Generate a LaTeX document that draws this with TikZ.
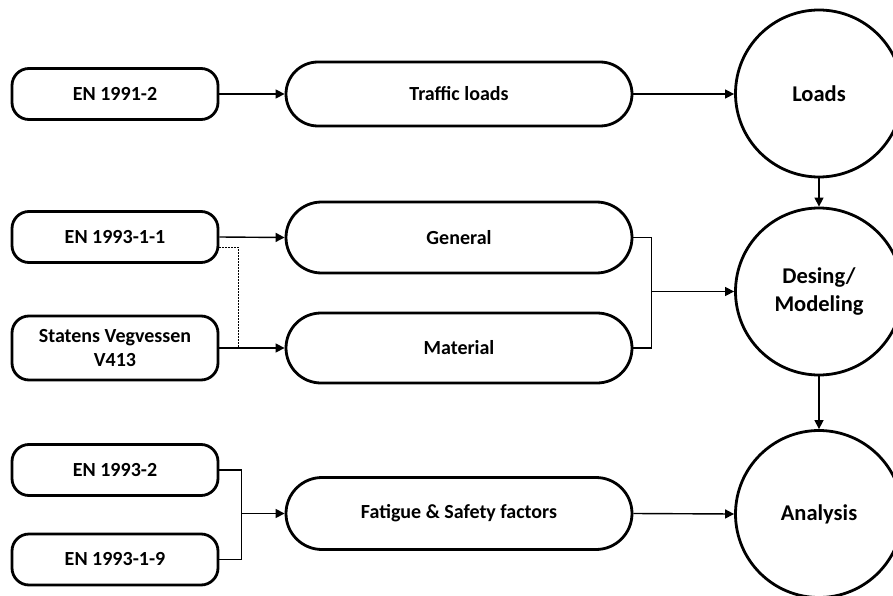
\documentclass[tikz,border=0pt]{standalone}
\usepackage{fontspec}
\setmainfont{Carlito}
\usetikzlibrary{shapes.misc,arrows.meta}
\begin{document}
\begin{tikzpicture}[x=1pt,y=-1pt,
 every node/.style={font=\bfseries\fontsize{20}{24}\selectfont, align=center, inner sep=0pt},
 srcbox/.style={draw, line width=2.8pt, rounded corners=17pt, minimum width=206pt, minimum height=51pt},
 midbox/.style={draw, line width=2.8pt, rounded rectangle, minimum width=346pt},
 bigcircle/.style={draw, line width=2.8pt, circle, minimum size=167pt, font=\bfseries\fontsize{22.5}{28}\selectfont},
 conn/.style={line width=1.4pt},
 arr/.style={conn, -{Triangle[length=9pt,width=9pt]}},
 dotline/.style={line width=1pt, dash pattern=on 1.5pt off 1.5pt},
]
\useasboundingbox (0,0) rectangle (893,596);

\node[srcbox] (en1) at (115,94) {EN 1991-2};
\node[srcbox] (en2) at (115,237) {EN 1993-1-1};
\node[srcbox, minimum height=64pt] (svv) at (115,348) {Statens Vegvessen\\V413};
\node[srcbox] (en3) at (115,470) {EN 1993-2};
\node[srcbox] (en4) at (115,559.5) {EN 1993-1-9};

\node[midbox, minimum height=64pt] (traffic) at (459,94) {Traffic loads};
\node[midbox, minimum height=71pt] (general) at (459,237.5) {General};
\node[midbox, minimum height=70pt] (material) at (459,348) {Material};
\node[midbox, minimum height=72pt] (fatigue) at (459,513.5) {Fatigue \& Safety factors};

\node[bigcircle] (loads) at (819,93.5) {Loads};
\node[bigcircle] (design) at (819,291.5) {Desing/\\Modeling};
\node[bigcircle] (analysis) at (819,514) {Analysis};

\draw[arr] (en1.east) -- (traffic.west);
\draw[arr] (traffic.east) -- (traffic.east -| loads.west);
\draw[arr] (en2.east) -- (general.west);
\draw[arr] (svv.east) -- (material.west);
\draw[dotline] ([yshift=-10pt]en2.east) -| ([xshift=19pt]svv.east);

\draw[conn] (general.east) -- ++(18,0) coordinate (gm) |- (material.east);
\draw[arr] (gm |- design.west) -- (design.west);

\draw[conn] (en3.east) -- ++(22,0) coordinate (lm) |- (en4.east);
\draw[arr] (lm |- fatigue.west) -- (fatigue.west);

\draw[arr] (fatigue.east) -- (analysis.west);
\draw[arr] (loads.south) -- (design.north);
\draw[arr] (design.south) -- (analysis.north);
\end{tikzpicture}
\end{document}
